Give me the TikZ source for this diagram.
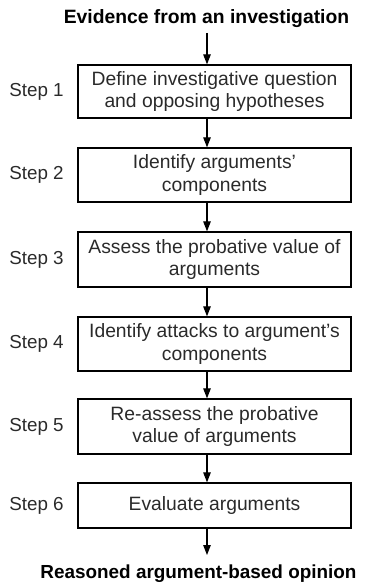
\documentclass[tikz,border=0pt]{standalone}
\usepackage{fontspec}
\setmainfont{Liberation Sans}
\usetikzlibrary{arrows.meta}
\definecolor{txt}{HTML}{2A2A2A}
\begin{document}
\begin{tikzpicture}[x=1pt,y=-1pt,
  stepbox/.style={draw=black, line width=1.3pt, minimum width=273pt, align=center,
    text=txt, font=\fontsize{19.3}{22.8}\selectfont, inner sep=0pt},
  steplabel/.style={text=txt, font=\fontsize{18.8}{20}\selectfont, inner sep=0pt},
  endtext/.style={font=\fontsize{18.9}{20}\selectfont\bfseries, inner sep=0pt},
  flow/.style={line width=1.1pt, -{Triangle[length=10pt,width=7.5pt]}}]
\useasboundingbox (0,0) rectangle (371,583);
\node[endtext, font=\fontsize{19.3}{20}\selectfont\bfseries] (top) at (206.5,19) {Evidence from an investigation};
\node[stepbox, minimum height=53pt] (b1) at (214.5,91.5) {Define investigative question\\and opposing hypotheses};
\node[stepbox, minimum height=54pt] (b2) at (214.5,175) {Identify arguments’\\components};
\node[stepbox, minimum height=55pt] (b3) at (214.5,259.5) {Assess the probative value of\\arguments};
\node[stepbox, minimum height=54pt] (b4) at (214.5,344) {Identify attacks to argument’s\\components};
\node[stepbox, minimum height=55pt] (b5) at (214.5,426.5) {Re-assess the probative\\value of arguments};
\node[stepbox, minimum height=45pt] (b6) at (214.5,505.5) {Evaluate arguments};
\node[endtext] (bot) at (198.5,574) {Reasoned argument-based opinion};
\node[steplabel] (s1) at (36.5,92) {Step 1};
\node[steplabel] (s2) at (36.5,175) {Step 2};
\node[steplabel] (s3) at (36.5,259.5) {Step 3};
\node[steplabel] (s4) at (36.5,344) {Step 4};
\node[steplabel] (s5) at (36.5,426.5) {Step 5};
\node[steplabel] (s6) at (36.5,505.5) {Step 6};
\coordinate (ax) at (207,0);
\coordinate (tstart) at (207,33);
\coordinate (bend) at (207,555);
\draw[flow] (tstart) -- (b1.north -| ax);
\draw[flow] (b1.south -| ax) -- (b2.north -| ax);
\draw[flow] (b2.south -| ax) -- (b3.north -| ax);
\draw[flow] (b3.south -| ax) -- (b4.north -| ax);
\draw[flow] (b4.south -| ax) -- (b5.north -| ax);
\draw[flow] (b5.south -| ax) -- (b6.north -| ax);
\draw[flow] (b6.south -| ax) -- (bend);
\end{tikzpicture}
\end{document}
